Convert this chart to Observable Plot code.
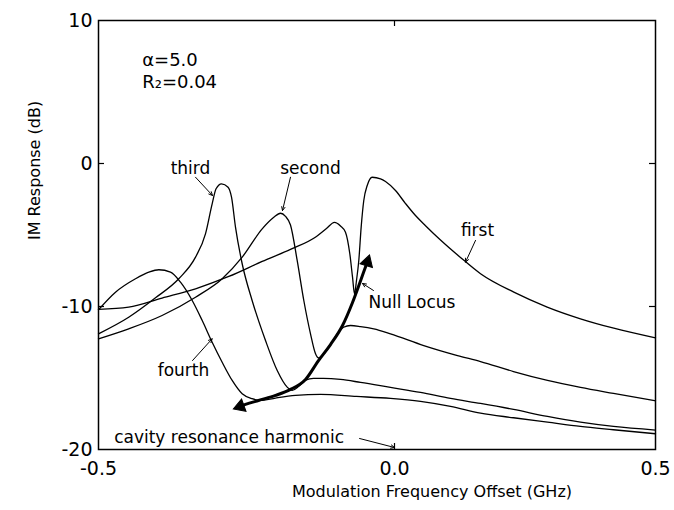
<!DOCTYPE html>
<html><head><meta charset="utf-8">
<script src="https://cdn.jsdelivr.net/npm/d3@7"></script>
<script src="https://cdn.jsdelivr.net/npm/@observablehq/plot@0.6"></script>
<style>body{margin:0;background:#fff}</style>
</head><body><div id="chart"></div>
<script>
// axis ticks
const xTicks = [-0.5, 0, 0.5];
const yTicks = [10, 0, -10, -20];
const innerYTicks = [0, -10];
const innerXTicks = [0];

// "first" harmonic curve
const firstX = [-0.5, -0.449, -0.3926, -0.3361, -0.2799, -0.2235, -0.1757, -0.1318, -0.1149, -0.1014, -0.0912, -0.0828, -0.0755, -0.0709, -0.0676, -0.0642, -0.0603, -0.0563, -0.0519, -0.0461, -0.0377, -0.0236, -0.0152, 0.0019, 0.0211, 0.0402, 0.0594, 0.0881, 0.1264, 0.1648, 0.2286, 0.2925, 0.3563, 0.4201, 0.5];
const firstY = [-10.2, -10.05, -9.41, -8.76, -7.90, -6.85, -6.01, -5.10, -4.55, -4.12, -4.37, -4.80, -6.31, -7.95, -9.11, -8.18, -6.78, -4.45, -2.59, -1.54, -0.96, -1.07, -1.26, -1.89, -2.80, -3.64, -4.35, -5.35, -6.57, -7.71, -9.0, -10.04, -10.86, -11.52, -12.2];

// "second"
const secondX = [-0.5, -0.449, -0.3926, -0.3361, -0.291, -0.2573, -0.2235, -0.2039, -0.1926, -0.1841, -0.1757, -0.1644, -0.1532, -0.1419, -0.1334, -0.1284, -0.1194, -0.1081, -0.0963, -0.0861, -0.0743, -0.0574, -0.035, -0.0068, 0.0561, 0.1207, 0.1648, 0.228, 0.2931, 0.3563, 0.4195, 0.5];
const secondY = [-12.26, -11.56, -10.63, -9.35, -8.06, -6.55, -4.57, -3.76, -3.48, -3.7, -4.3, -6.78, -9.58, -11.91, -13.31, -13.6, -13.31, -12.66, -11.9, -11.45, -11.33, -11.4, -11.56, -11.91, -12.73, -13.43, -13.85, -14.55, -15.17, -15.66, -16.08, -16.6];

// "third"
const thirdX = [-0.5, -0.449, -0.4037, -0.3644, -0.3361, -0.3193, -0.308, -0.3014, -0.2922, -0.2811, -0.2753, -0.2686, -0.2573, -0.2405, -0.2179, -0.1981, -0.1813, -0.1728, -0.1622, -0.1503, -0.1368, -0.1199, -0.0912, -0.0574, -0.0068, 0.0498, 0.1073, 0.1648, 0.228, 0.2931, 0.3563, 0.4195, 0.5];
const thirdY = [-11.91, -10.75, -9.39, -8.06, -6.55, -4.92, -2.82, -1.77, -1.42, -1.66, -2.36, -4.45, -7.01, -9.58, -12.38, -14.48, -15.64, -15.87, -15.6, -15.15, -15.03, -15.03, -15.1, -15.31, -15.66, -16.01, -16.43, -16.78, -17.2, -17.69, -18.09, -18.39, -18.64];

// "fourth"
const fourthX = [-0.5, -0.4713, -0.4375, -0.415, -0.3981, -0.3784, -0.3615, -0.3417, -0.3248, -0.308, -0.2911, -0.2742, -0.2573, -0.2405, -0.2264, -0.201, -0.1672, -0.125, -0.0642, -0.0068, 0.0498, 0.1073, 0.1648, 0.228, 0.2931, 0.3563, 0.4195, 0.5];
const fourthY = [-10.23, -9.0, -8.06, -7.6, -7.43, -7.6, -8.3, -9.58, -10.98, -12.5, -13.9, -15.17, -16.1, -16.45, -16.57, -16.4, -16.22, -16.15, -16.29, -16.43, -16.64, -16.99, -17.46, -17.78, -18.09, -18.39, -18.62, -18.9];

// null locus (thick, double-headed)
const locusX = [-0.2605, -0.2517, -0.2297, -0.201, -0.1757, -0.1503, -0.1284, -0.1081, -0.0878, -0.0709, -0.0608, -0.0524, -0.0459];
const locusY = [-16.99, -16.85, -16.57, -16.22, -15.80, -15.10, -13.78, -12.66, -11.33, -9.72, -8.60, -7.62, -6.89];
const locusHeadX = [-0.0459, -0.2605];
const locusHeadY = [-6.89, -16.99];
const locusHeadAngle = [17, -110];

// labels
const labelText = ["third", "second", "first", "fourth"];
const labelX = [-0.3446, -0.1419, 0.159, -0.3564];
const labelY = [-0.35, -0.35, -4.69, -14.48];
const leftText = ["Null Locus", "cavity resonance harmonic", "α=5.0", "R₂=0.04"];
const leftX = [-0.0439, -0.4736, -0.4262, -0.4262];
const leftY = [-9.72, -19.16, 7.2, 5.66];
const leftSize = [17, 17, 18, 18];

// label pointer arrows
const arrowX1 = [-0.3361, -0.1757, 0.1552, -0.0355, -0.3412, -0.059];
const arrowY1 = [-0.96, -0.96, -5.38, -8.88, -13.78, -19.23];
const arrowX2 = [-0.3074, -0.1892, 0.136, -0.0541, -0.308, 0.0];
const arrowY2 = [-2.24, -3.29, -6.9, -8.39, -12.26, -19.86];

// the printed axis is stretched more left of 0 than right of 0
const warp = 592 / 522;
const xWarp = x => x < 0 ? x * warp : x;
const xUnwarp = v => v < 0 ? v / warp : v;

const series = [
  ["first", firstX, firstY], ["second", secondX, secondY],
  ["third", thirdX, thirdY], ["fourth", fourthX, fourthY]
];
const curveRows = series.flatMap(([name, xs, ys]) => xs.map((x, i) => ({name, x, y: ys[i]})));
const locusRows = locusX.map((x, i) => ({x, y: locusY[i]}));
const headRows = locusHeadX.map((x, i) => ({x, y: locusHeadY[i], a: locusHeadAngle[i]}));
const labelRows = labelText.map((t, i) => ({t, x: labelX[i], y: labelY[i]}));
const leftRows = leftText.map((t, i) => ({t, x: leftX[i], y: leftY[i], s: leftSize[i]}));
const arrowRows = arrowX1.map((x1, i) => ({x1, y1: arrowY1[i], x2: arrowX2[i], y2: arrowY2[i]}));

const font = "'DejaVu Sans', sans-serif";
const chart = Plot.plot({
  width: 674, height: 510,
  marginLeft: 98, marginRight: 19, marginTop: 20, marginBottom: 61,
  style: {fontFamily: font, fontSize: "19px", color: "black", background: "white"},
  x: {transform: xWarp, domain: [xWarp(-0.5), xWarp(0.5)], ticks: xTicks.map(xWarp),
      tickFormat: d => xUnwarp(d).toFixed(1), tickSize: 0, tickPadding: 12, label: null},
  y: {domain: [-20, 10], ticks: yTicks, tickFormat: d => String(d), tickSize: 0, tickPadding: 6, label: null},
  marks: [
    Plot.line(curveRows, {x: "x", y: "y", z: "name", stroke: "black", strokeWidth: 1.3, curve: "monotone-x"}),
    Plot.line(locusRows, {x: "x", y: "y", stroke: "black", strokeWidth: 3, curve: "monotone-x"}),
    Plot.dot(headRows, {x: "x", y: "y", symbol: "triangle", r: 4.8, fill: "black", stroke: "black", strokeWidth: 1, rotate: "a"}),
    Plot.arrow(arrowRows, {x1: "x1", y1: "y1", x2: "x2", y2: "y2", stroke: "black", strokeWidth: 1, headLength: 6, headAngle: 50}),
    Plot.text(labelRows, {x: "x", y: "y", text: "t", fontSize: 17, fill: "black"}),
    Plot.text(leftRows, {x: "x", y: "y", text: "t", fontSize: "s", textAnchor: "start", fill: "black"}),
    Plot.text(["Modulation Frequency Offset (GHz)"], {frameAnchor: "bottom", dx: 55, dy: 47, fontSize: 16, fill: "black"}),
    Plot.text(["IM Response (dB)"], {frameAnchor: "left", rotate: -90, dx: -64, dy: 5, fontSize: 16, fill: "black"}),
    Plot.tickY(innerYTicks, {y: d => d, insetRight: 551, stroke: "black", strokeWidth: 1.2}),
    Plot.tickY(innerYTicks, {y: d => d, insetLeft: 551, stroke: "black", strokeWidth: 1.2}),
    Plot.tickX(innerXTicks, {x: d => d, insetBottom: 423, stroke: "black", strokeWidth: 1.2}),
    Plot.tickX(innerXTicks, {x: d => d, insetTop: 423, stroke: "black", strokeWidth: 1.2}),
    Plot.frame({stroke: "black", strokeWidth: 1.5})
  ]
});
document.getElementById("chart").appendChild(chart);
</script></body></html>
